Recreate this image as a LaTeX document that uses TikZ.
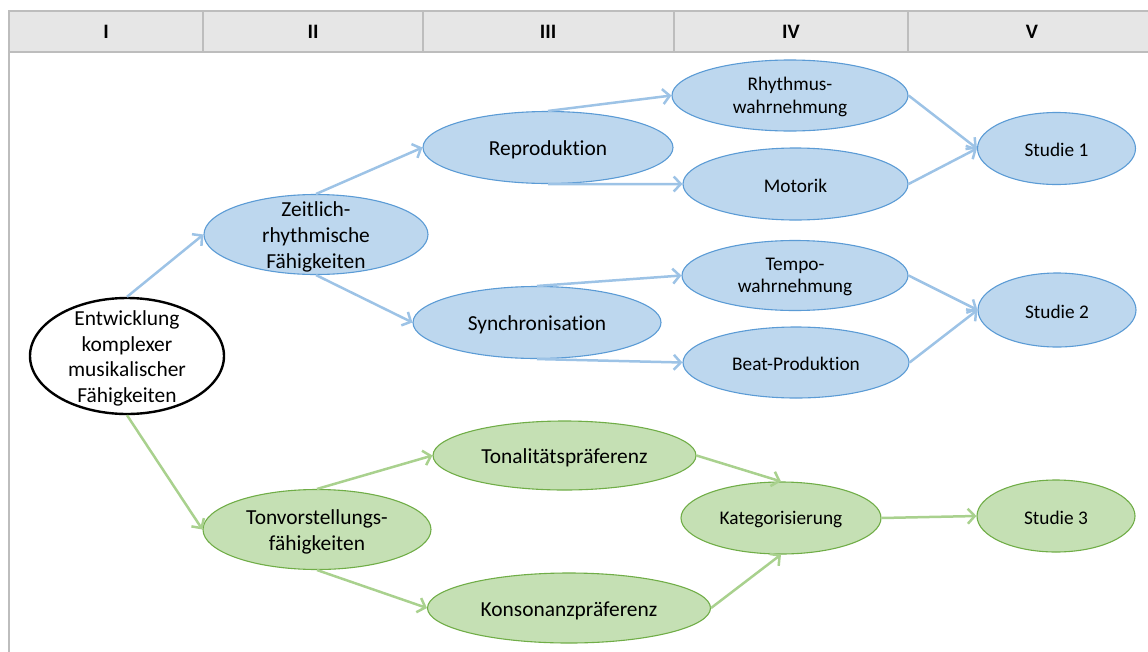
\documentclass[tikz,border=0pt]{standalone}
\usepackage{fontspec}
\setmainfont{Carlito}[Ligatures={NoCommon}]
\usetikzlibrary{shapes.geometric,arrows.meta}
\definecolor{bfill}{HTML}{BDD7EE}
\definecolor{bdraw}{HTML}{5B9BD5}
\definecolor{barrow}{HTML}{9DC3E6}
\definecolor{gfill}{HTML}{C5E0B4}
\definecolor{gdraw}{HTML}{70AD47}
\definecolor{garrow}{HTML}{A9D18E}
\definecolor{hfill}{HTML}{E6E6E6}
\definecolor{hdraw}{HTML}{BDBDBD}
\tikzset{
  ellbase/.style={ellipse, inner sep=0pt, line width=1.1pt},
  bell/.style={ellbase, fill=bfill, draw=bdraw},
  gell/.style={ellbase, fill=gfill, draw=gdraw},
  wh/.style 2 args={minimum width=#1pt, minimum height=#2pt},
  bigtxt/.style={align=center, inner sep=0pt, yshift=-2.5pt, font=\fontsize{21.4}{25.8}\selectfont},
  smalltxt/.style={align=center, inner sep=0pt, yshift=-1.5pt, font=\fontsize{19.3}{22.7}\selectfont},
  hdrtxt/.style={inner sep=0pt, font=\fontsize{20.5}{24}\selectfont\bfseries},
  hdrcell/.style={draw=hdraw, fill=hfill, line width=1.2pt},
  conn/.style={line width=2.5pt, -{Straight Barb[length=7pt,width=15pt]}},
  barr/.style={conn, draw=barrow},
  garr/.style={conn, draw=garrow},
}
\begin{document}
\begin{tikzpicture}[x=1pt,y=-1pt]
\useasboundingbox (0,0) rectangle (1148,651);
% header
\draw[hdrcell] (9,11) rectangle (203,52);
\draw[hdrcell] (203,11) rectangle (423,52);
\draw[hdrcell] (423,11) rectangle (674,52);
\draw[hdrcell] (674,11) rectangle (908,52);
\draw[hdrcell] (908,11) rectangle (1160,52);
\node[hdrtxt] (h1) at (106,31.5) {I};
\node[hdrtxt] (h2) at (313,31.5) {II};
\node[hdrtxt] (h3) at (548,31.5) {III};
\node[hdrtxt] (h4) at (791,31.5) {IV};
\node[hdrtxt] (h5) at (1032,31.5) {V};
\draw[hdraw, line width=1.2pt] (9,52) -- (9,660);
% ellipses
\node[ellbase, draw=black, fill=white, line width=2.4pt, wh={194}{116}] (entw) at (127,356) {};
\node[bigtxt] (entwT) at (entw) {Entwicklung\\komplexer\\musikalischer\\Fähigkeiten};
\node[bell, wh={224}{80}] (zeit) at (316,234.5) {};
\node[bigtxt] (zeitT) at (zeit) {Zeitlich-\\rhythmische\\Fähigkeiten};
\node[bell, wh={250}{72}] (repr) at (548,147.5) {};
\node[bigtxt] (reprT) at (repr) {Reproduktion};
\node[bell, wh={248}{72}] (sync) at (537,322.5) {};
\node[bigtxt] (syncT) at (sync) {Synchronisation};
\node[bell, wh={236}{71}] (rhyt) at (790,95.5) {};
\node[smalltxt] (rhytT) at (rhyt) {Rhythmus-\\wahrnehmung};
\node[bell, wh={225}{72}] (moto) at (795.5,184) {};
\node[smalltxt] (motoT) at (moto) {Motorik};
\node[bell, wh={226}{70}] (temp) at (795,275.5) {};
\node[smalltxt] (tempT) at (temp) {Tempo-\\wahrnehmung};
\node[bell, wh={226}{71}] (beat) at (796,362.5) {};
\node[smalltxt] (beatT) at (beat) {Beat-Produktion};
\node[bell, wh={158}{72}] (stud1) at (1056.5,148.5) {};
\node[smalltxt] (stud1T) at (stud1) {Studie 1};
\node[bell, wh={158}{74}] (stud2) at (1057,310) {};
\node[smalltxt] (stud2T) at (stud2) {Studie 2};
\node[gell, wh={228}{80}] (tonv) at (317,529.5) {};
\node[bigtxt] (tonvT) at (tonv) {Tonvorstellungs-\\fähigkeiten};
\node[gell, wh={263}{69}] (tona) at (564.5,455.5) {};
\node[bigtxt] (tonaT) at (tona) {Tonalitätspräferenz};
\node[gell, wh={283}{70}] (kons) at (569,608) {};
\node[bigtxt] (konsT) at (kons) {Konsonanzpräferenz};
\node[gell, wh={200}{72}] (kate) at (781,518) {};
\node[smalltxt] (kateT) at (kate) {Kategorisierung};
\node[gell, wh={158}{72}] (stud3) at (1056,516) {};
\node[smalltxt] (stud3T) at (stud3) {Studie 3};
% connectors
\draw[barr] (entw.north) -- (zeit.west);
\draw[garr] (entw.south) -- (tonv.west);
\draw[barr] (zeit.north) -- (repr.west);
\draw[barr] (zeit.south) -- (sync.west);
\draw[barr] (repr.north) -- (rhyt.west);
\draw[barr] (repr.south) -- (moto.west);
\draw[barr] (sync.north) -- (temp.west);
\draw[barr] (sync.south) -- (beat.west);
\draw[barr] (rhyt.east) -- (stud1.west);
\draw[barr] (moto.east) -- (stud1.west);
\draw[barr] (temp.east) -- (stud2.west);
\draw[barr] (beat.east) -- (stud2.west);
\draw[garr] (tonv.north) -- (tona.west);
\draw[garr] (tonv.south) -- (kons.west);
\draw[garr] (tona.east) -- (kate.north);
\draw[garr] (kons.east) -- (kate.south);
\draw[garr] (kate.east) -- (stud3.west);
\end{tikzpicture}
\end{document}
